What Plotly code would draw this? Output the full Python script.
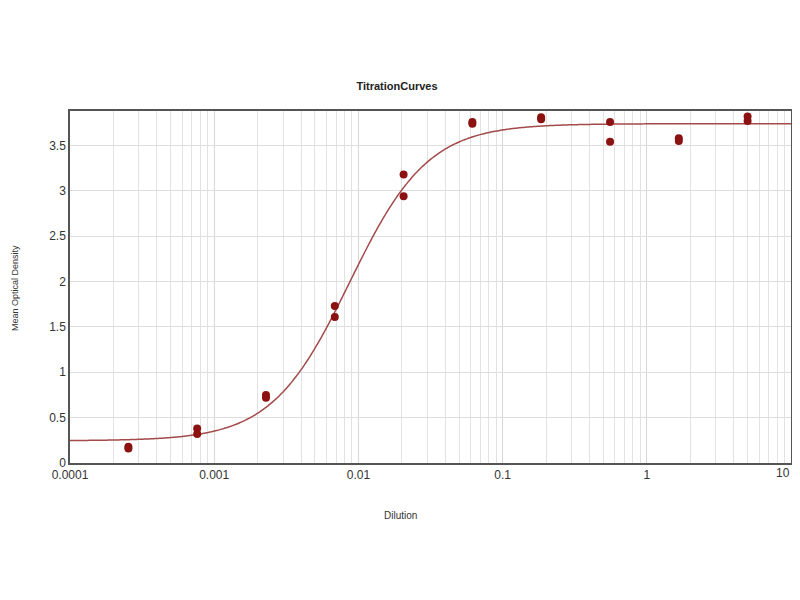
import plotly.graph_objects as go
import numpy as np

# dilution series (1/3 steps) and duplicate OD readings
dilution = [0.000254, 0.000762, 0.002286, 0.00686, 0.02058,
            0.0617, 0.185, 0.556, 1.667, 5.0]
od_rep1 = [0.18, 0.38, 0.75, 1.73, 3.18, 3.76, 3.81, 3.76, 3.58, 3.82]
od_rep2 = [0.16, 0.32, 0.72, 1.61, 2.94, 3.74, 3.79, 3.54, 3.55, 3.77]

x_ticks = [0.0001, 0.001, 0.01, 0.1, 1, 10]
x_labels = ["0.0001", "0.001", "0.01", "0.1", "1", "10"]
y_ticks = [0, 0.5, 1, 1.5, 2, 2.5, 3, 3.5]
y_labels = ["0", "0.5", "1", "1.5", "2", "2.5", "3", "3.5"]

# 4PL fit parameters (bottom, top, ec50, hill)
fit_bottom = 0.245
fit_top = 3.74
fit_ec50 = 0.0087
fit_hill = 1.6

x_fit = np.logspace(-4, 1, 400)
y_fit = fit_top + (fit_bottom - fit_top) / (1 + (x_fit / fit_ec50) ** fit_hill)

fig = go.Figure()

fig.add_trace(go.Scatter(x=x_fit, y=y_fit, mode="lines",
                         line=dict(color="#a34a4a", width=1.5, shape="spline",
                                   simplify=False),
                         showlegend=False, hoverinfo="skip"))

fig.add_trace(go.Scatter(x=dilution + dilution, y=od_rep1 + od_rep2, mode="markers",
                         marker=dict(color="#8c1111", size=8),
                         showlegend=False))

# page body adds an 8px margin, so size the figure to fit inside the window
W, H = 784, 584

fig.update_layout(
    width=W, height=H,
    margin=dict(l=62, r=1, t=103, b=H - 455),
    paper_bgcolor="white", plot_bgcolor="white",
    font=dict(family="Liberation Sans, Arial", color="#333333"),
    title=dict(text="<b>TitrationCurves</b>", font=dict(size=11, color="#222222"),
               x=389 / W, xref="container", xanchor="center",
               y=1 - 78 / H, yref="container", yanchor="middle"),
    annotations=[
        dict(text="Mean Optical Density", xref="paper", yref="paper",
             x=-0.086, y=0.497, xanchor="left", yanchor="middle",
             textangle=-90, showarrow=False,
             font=dict(size=9, color="#333333")),
        dict(text="Dilution", xref="paper", yref="paper",
             x=0.459, y=-0.15, xanchor="center", yanchor="middle",
             showarrow=False, font=dict(size=10, color="#333333")),
        # last x tick label sits at the very edge, drawn right-aligned
        dict(text=x_labels[-1], xref="paper", yref="paper",
             x=1, y=0, xanchor="right", yanchor="middle", xshift=1, yshift=-10,
             showarrow=False, font=dict(size=12, color="#333333")),
    ],
)

fig.update_xaxes(
    type="log", range=[-4, 1],
    tickvals=x_ticks,
    ticktext=x_labels[:-1] + [""],
    tickfont=dict(size=12, color="#333333"),
    showgrid=True, gridcolor="#d6d6d6", gridwidth=1,
    minor=dict(dtick="D1", showgrid=True, gridcolor="#e2e2e2", gridwidth=1),
    showline=True, linecolor="#555555", linewidth=1.5, mirror=True,
    ticks="", zeroline=False, automargin=False,
)

fig.update_yaxes(
    range=[0, 3.88],
    tickvals=y_ticks,
    ticktext=y_labels,
    tickfont=dict(size=12, color="#333333"),
    showgrid=True, gridcolor="#dedede", gridwidth=1,
    showline=True, linecolor="#555555", linewidth=1.5, mirror=True,
    ticks="", zeroline=False, automargin=False,
)

fig.write_html("out.html")
